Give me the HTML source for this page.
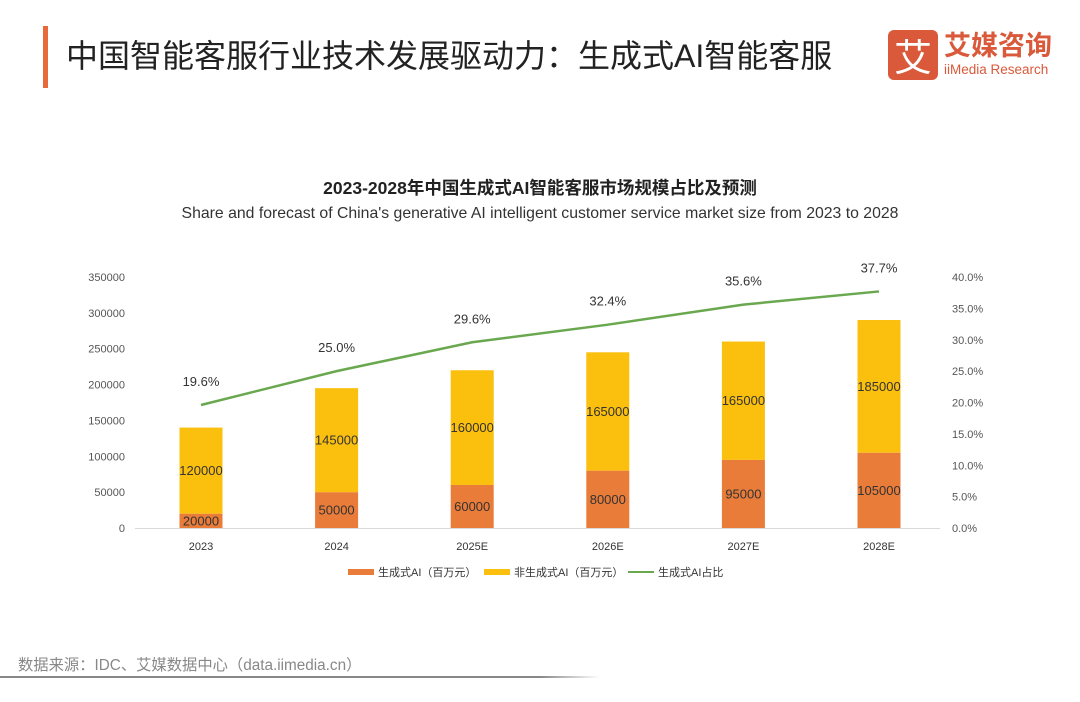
<!DOCTYPE html>
<html><head><meta charset="utf-8"><style>
html,body{margin:0;padding:0;background:#fff;}
body{width:1080px;height:702px;position:relative;overflow:hidden;font-family:"Liberation Sans","Noto Sans CJK SC",sans-serif;}
.abs{position:absolute;}
</style></head><body>
<div class="abs" style="left:43px;top:26px;width:5px;height:62px;background:#e8693b;"></div>
<div class="abs" style="left:66px;top:31px;font-size:32px;color:#222;white-space:nowrap;">中国智能客服行业技术发展驱动力：生成式AI智能客服</div>
<div class="abs" style="left:888px;top:28px;width:175px;height:54px;">
  <div class="abs" style="left:0;top:2px;width:50px;height:50px;background:#d9593a;border-radius:6px;color:#fff;font-size:38px;line-height:50px;text-align:center;font-family:'Noto Sans CJK SC',sans-serif;">艾</div>
  <div class="abs" style="left:56px;top:-4px;font-size:27px;color:#d9593a;font-weight:bold;white-space:nowrap;font-family:'Noto Sans CJK SC',sans-serif;">艾媒咨询</div>
  <div class="abs" style="left:56px;top:34px;font-size:13.5px;color:#d9593a;white-space:nowrap;">iiMedia Research</div>
</div>
<div class="abs" style="left:0;width:1080px;top:175px;text-align:center;font-size:17.5px;font-weight:bold;color:#222;">2023-2028年中国生成式AI智能客服市场规模占比及预测</div>
<div class="abs" style="left:0;width:1080px;top:205px;text-align:center;font-size:15.8px;color:#333;">Share and forecast of China's generative AI intelligent customer service market size from 2023 to 2028</div>
<svg class="abs" style="left:0;top:0" width="1080" height="702" id="chart"></svg>
<div class="abs" style="left:18px;top:653px;font-size:15.3px;color:#888;white-space:nowrap;">数据来源：IDC、艾媒数据中心（data.iimedia.cn）</div>
<div class="abs" style="left:0;top:676px;width:600px;height:2px;background:linear-gradient(to right,#888 90%,#fff);"></div>
<script>
const categories=["2023","2024","2025E","2026E","2027E","2028E"];
const genAI=[20000,50000,60000,80000,95000,105000];
const nonGenAI=[120000,145000,160000,165000,165000,185000];
const share=[19.6,25.0,29.6,32.4,35.6,37.7];
const leftTicks=[0,50000,100000,150000,200000,250000,300000,350000];
const rightTicks=[0,5,10,15,20,25,30,35,40];
const NS="http://www.w3.org/2000/svg";
const svg=document.getElementById('chart');
const y0=528,yTop=277,x0=201,step=135.6,bw=43;
const yL=v=>y0-(v/350000)*(y0-yTop);
const yR=v=>y0-(v/40)*(y0-yTop);
const xC=i=>x0+i*step;
function el(tag,attrs,text){const e=document.createElementNS(NS,tag);for(const k in attrs)e.setAttribute(k,attrs[k]);if(text!==undefined)e.textContent=text;svg.appendChild(e);return e;}
leftTicks.forEach(t=>{const e=el('text',{x:125,y:yL(t)+4,'text-anchor':'end','font-size':11,fill:'#555','font-family':'Liberation Sans'},String(t));

});
rightTicks.forEach(t=>{const e=el('text',{x:952,y:yR(t)+4,'font-size':11,fill:'#555','font-family':'Liberation Sans'},t.toFixed(1)+'%');

});
const ax=el('line',{x1:135,x2:940,y1:y0+0.5,y2:y0+0.5,stroke:'#d9d9d9','stroke-width':1});


categories.forEach((c,i)=>{
 const x=xC(i)-bw/2;
 const r1=el('rect',{x:x,y:yL(genAI[i]),width:bw,height:y0-yL(genAI[i]),fill:'#ea7c3a'});
 
 
 const top=genAI[i]+nonGenAI[i];
 const r2=el('rect',{x:x,y:yL(top),width:bw,height:yL(genAI[i])-yL(top),fill:'#fbbf0e'});
 
 
 const l1=el('text',{x:xC(i),y:(yL(genAI[i])+y0)/2+4.5,'text-anchor':'middle','font-size':13,fill:'#333'},String(genAI[i]));
 
 
 const l2=el('text',{x:xC(i),y:(yL(top)+yL(genAI[i]))/2+4.5,'text-anchor':'middle','font-size':13,fill:'#333'},String(nonGenAI[i]));
 
 
 const cl=el('text',{x:xC(i),y:550,'text-anchor':'middle','font-size':11,fill:'#333'},c);
 
 
 const sl=el('text',{x:xC(i),y:yR(share[i])-19,'text-anchor':'middle','font-size':13,fill:'#333'},share[i].toFixed(1)+'%');
 
 
});
const pl=el('polyline',{points:share.map((s,i)=>xC(i)+','+yR(s)).join(' '),fill:'none',stroke:'#6aa84f','stroke-width':2.5});


const lg=[{t:'生成式AI（百万元）',c:'#ea7c3a',x:348,k:'rect'},{t:'非生成式AI（百万元）',c:'#fbbf0e',x:484,k:'rect'},{t:'生成式AI占比',c:'#6aa84f',x:628,k:'line'}];
lg.forEach(l=>{
 let m;
 if(l.k==='rect') m=el('rect',{x:l.x,y:569,width:26,height:6,fill:l.c});
 else m=el('line',{x1:l.x,x2:l.x+26,y1:572,y2:572,stroke:l.c,'stroke-width':2});
 
 
 const t=el('text',{x:l.x+30,y:576,'font-size':11,fill:'#333','font-family':'Liberation Sans, Noto Sans CJK SC, sans-serif'},l.t);
 
 
});
</script>
</body></html>
